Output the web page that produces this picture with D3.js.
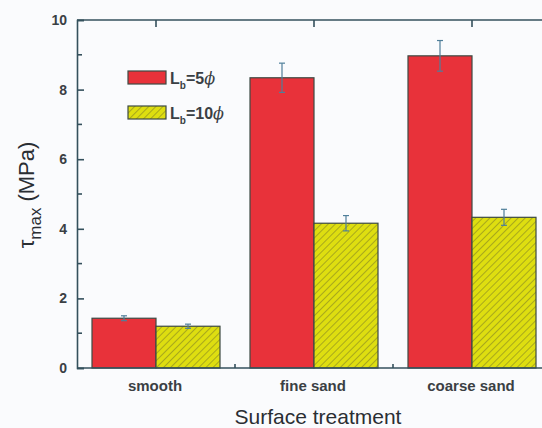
<!DOCTYPE html>
<html>
<head>
<meta charset="utf-8">
<script src="https://cdn.jsdelivr.net/npm/d3@7"></script>
<style>
  body { margin: 0; background: #fafbfd; }
  svg { display: block; font-family: Arial, "Liberation Sans", sans-serif; }
</style>
</head>
<body>
<div id="chart"></div>
<script>
var categories = ["smooth", "fine sand", "coarse sand"];
var series_names = ["5", "10"];
var lb5_values = [1.43, 8.34, 8.97];
var lb5_errors = [0.07, 0.42, 0.44];
var lb10_values = [1.20, 4.16, 4.33];
var lb10_errors = [0.06, 0.22, 0.23];
var y_ticks = [0, 2, 4, 6, 8, 10];

var width = 542, height = 428;
var margin = { top: 20, left: 77 };
var plot_h = 348;

var svg = d3.select("#chart").append("svg")
  .attr("width", width).attr("height", height);

var defs = svg.append("defs");
var hatch = defs.append("pattern")
  .attr("id", "hatch").attr("patternUnits", "userSpaceOnUse")
  .attr("width", 5).attr("height", 5)
  .attr("patternTransform", "rotate(45)");
hatch.append("rect").attr("width", 5).attr("height", 5).attr("fill", "#dede10");
hatch.append("line").attr("x1", 0).attr("y1", 0).attr("x2", 0).attr("y2", 5)
  .attr("stroke", "#9a9a1e").attr("stroke-width", 1.6);

var x = d3.scaleBand().domain(categories)
  .range([margin.left, margin.left + 474]).padding(0);
var y = d3.scaleLinear().domain([0, 10]).range([margin.top + plot_h, margin.top]);

var bar_w = 64;
var axis_color = "#34505c";
var text_color = "#3a3f44";

// bars
var series = [
  { name: "5", values: lb5_values, errors: lb5_errors, fill: "#e8323a", offset: -bar_w },
  { name: "10", values: lb10_values, errors: lb10_errors, fill: "url(#hatch)", offset: 0 }
];

series.forEach(function(s) {
  var g = svg.append("g");
  g.selectAll("rect").data(categories).enter().append("rect")
    .attr("x", function(c) { return x(c) + x.bandwidth() / 2 + s.offset; })
    .attr("y", function(c, i) { return y(s.values[i]); })
    .attr("width", bar_w)
    .attr("height", function(c, i) { return y(0) - y(s.values[i]); })
    .attr("fill", s.fill)
    .attr("stroke", "#3d4a44").attr("stroke-width", 1.2);

  // error bars
  var eb = svg.append("g").attr("stroke", "#4f7f9a").attr("stroke-width", 1.2);
  categories.forEach(function(c, i) {
    var cx = x(c) + x.bandwidth() / 2 + s.offset + bar_w / 2;
    var hi = y(s.values[i] + s.errors[i]), lo = y(s.values[i] - s.errors[i]);
    eb.append("line").attr("x1", cx).attr("x2", cx).attr("y1", hi).attr("y2", lo);
    eb.append("line").attr("x1", cx - 3).attr("x2", cx + 3).attr("y1", hi).attr("y2", hi);
    eb.append("line").attr("x1", cx - 3).attr("x2", cx + 3).attr("y1", lo).attr("y2", lo);
  });
});

// axes
var y_axis = d3.axisLeft(y).tickValues(y_ticks).tickSize(-7).tickPadding(10)
  .tickFormat(d3.format("d"));
var yg = svg.append("g").attr("transform", "translate(" + margin.left + ",0)").call(y_axis);
// minor ticks
yg.selectAll(".minor").data([1, 3, 5, 7, 9]).enter().append("line")
  .attr("class", "minor").attr("x1", 0).attr("x2", 5)
  .attr("y1", function(d) { return y(d); }).attr("y2", function(d) { return y(d); });

var bottom_ticks = categories.slice(1).map(function(c) { return x(c); });
svg.append("line").attr("x1", margin.left).attr("x2", width + 20)
  .attr("y1", y(0)).attr("y2", y(0));
svg.append("line").attr("x1", margin.left).attr("x2", width + 20)
  .attr("y1", y(10)).attr("y2", y(10));
svg.selectAll(".btick").data(bottom_ticks).enter().append("line")
  .attr("class", "btick").attr("x1", function(d) { return d; }).attr("x2", function(d) { return d; })
  .attr("y1", y(0)).attr("y2", y(0) - 4);
svg.selectAll(".ttick").data(categories).enter().append("line")
  .attr("class", "ttick")
  .attr("x1", function(c) { return x(c) + x.bandwidth() / 2; })
  .attr("x2", function(c) { return x(c) + x.bandwidth() / 2; })
  .attr("y1", y(10)).attr("y2", y(10) + 7);

svg.selectAll("line").filter(function() { return !this.closest("g[stroke]") && !this.closest("pattern"); })
  .attr("stroke", axis_color).attr("stroke-width", 1.6);
yg.select(".domain").attr("stroke", axis_color).attr("stroke-width", 1.6);
yg.selectAll(".tick line").attr("stroke", axis_color).attr("stroke-width", 1.6);
yg.selectAll(".tick text").attr("fill", text_color)
  .style("font-size", "14px").style("font-weight", "bold");

// category labels
svg.selectAll(".cat").data(categories).enter().append("text")
  .attr("x", function(c) { return x(c) + x.bandwidth() / 2 - 1; })
  .attr("y", 391).attr("text-anchor", "middle")
  .attr("fill", text_color).style("font-size", "15px").style("font-weight", "bold")
  .text(function(c) { return c; });

svg.append("text").attr("x", 318).attr("y", 424).attr("text-anchor", "middle")
  .attr("fill", "#2a2e33").style("font-size", "21px").text("Surface treatment");

// y title
var yt = svg.append("text").attr("transform", "translate(34,195) rotate(-90)")
  .attr("text-anchor", "middle").attr("fill", "#2a2e33").style("font-size", "22px");
yt.append("tspan").text("\u03c4");
yt.append("tspan").attr("dy", 7).style("font-size", "17px").text("max");
yt.append("tspan").attr("dy", -7).attr("dx", 6).text("(MPa)");

// legend
var legend = svg.append("g");
series.forEach(function(s, i) {
  var ly = 71 + i * 35;
  legend.append("rect").attr("x", 128).attr("y", ly).attr("width", 38).attr("height", 13)
    .attr("fill", s.fill).attr("stroke", "#3d4a44").attr("stroke-width", 1.2);
  var t = legend.append("text").attr("x", 170).attr("y", ly + 13)
    .attr("fill", text_color).style("font-size", "16px").style("font-weight", "bold");
  t.append("tspan").text("L");
  t.append("tspan").attr("dy", 5).style("font-size", "10px").text("b");
  t.append("tspan").attr("dy", -5).text("=" + s.name);
  t.append("tspan").style("font-style", "italic").style("font-weight", "normal")
    .style("font-family", "'DejaVu Serif', serif").text("\u03d5");
});
</script>
</body>
</html>
